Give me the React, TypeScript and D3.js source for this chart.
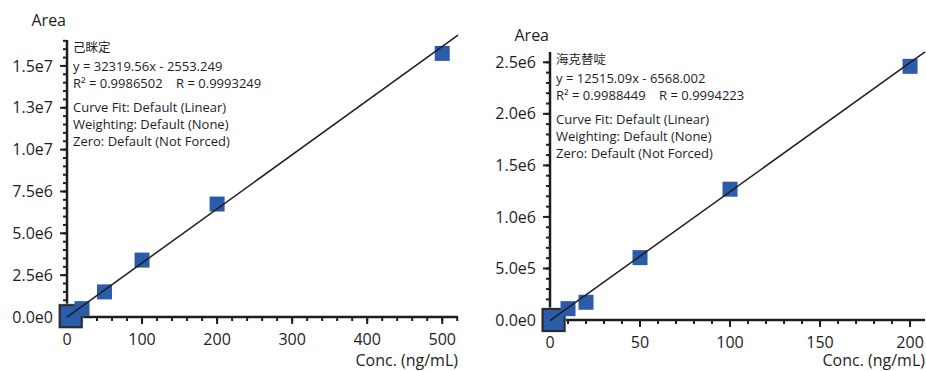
import React from "react";
import * as d3 from "d3";

// standards
const leftName = "己眯定";
const leftConc = [5, 20, 50, 100, 200, 500];
const leftArea = [0.05e6, 0.5e6, 1.5e6, 3.4e6, 6.75e6, 15.75e6];
const leftFit = { slope: 32319.56, intercept: -2553.249 };
const leftText = [
  "y = 32319.56x - 2553.249",
  "R² = 0.9986502    R = 0.9993249",
  "Curve Fit: Default (Linear)",
  "Weighting: Default (None)",
  "Zero: Default (Not Forced)",
];

const rightName = "海克替啶";
const rightConc = [2, 10, 20, 50, 100, 200];
const rightArea = [0, 0.11e6, 0.172e6, 0.605e6, 1.269e6, 2.461e6];
const rightFit = { slope: 12515.09, intercept: -6568.002 };
const rightText = [
  "y = 12515.09x - 6568.002",
  "R² = 0.9988449    R = 0.9994223",
  "Curve Fit: Default (Linear)",
  "Weighting: Default (None)",
  "Zero: Default (Not Forced)",
];

const font = '"Open Sans", "Noto Sans CJK SC", sans-serif';
const ink = "#1e1e1e";
const blue = "#2a5caa";

const fmt = (v: number) => v.toExponential(1).replace("+", "");

type PanelProps = {
  name: string;
  conc: number[];
  area: number[];
  fit: { slope: number; intercept: number };
  lines: string[];
  left: number;
  right: number;
  top: number;
  bottom: number;
  xMax: number;
  yMax: number;
  xStep: number;
  xMinor: number;
  yStep: number;
  yMinor: number;
  yMajorMax: number;
  areaY: number;
};

const Panel = (p: PanelProps) => {
  const x = d3.scaleLinear().domain([0, p.xMax]).range([p.left, p.right]);
  const y = d3.scaleLinear().domain([0, p.yMax]).range([p.bottom, p.top]);

  const xMajor = d3.range(0, p.xMax + 1e-9, p.xStep);
  const xMinor = d3.range(0, p.xMax + 1e-9, p.xMinor);
  const yMajor = d3.range(0, p.yMajorMax + 1, p.yStep);
  const yMinor = d3.range(0, p.yMax, p.yMinor);

  const fitLine = d3
    .line<number>()
    .x((d) => x(d))
    .y((d) => y(p.fit.slope * d + p.fit.intercept));

  const sz = 15;
  const big = 22;

  return (
    <g fontFamily={font} fill={ink}>
      <text x={p.left - 1} y={p.areaY} fontSize={16} textAnchor="end">
        Area
      </text>

      {yMinor.map((v) => (
        <line key={"ym" + v} x1={p.left - 4} x2={p.left} y1={y(v)} y2={y(v)} stroke={ink} strokeWidth={2} />
      ))}
      {yMajor.map((v) => (
        <g key={"yM" + v}>
          <line x1={p.left - 7} x2={p.left} y1={y(v)} y2={y(v)} stroke={ink} strokeWidth={2} />
          <text x={p.left - 14} y={y(v)} dy="0.35em" fontSize={16} textAnchor="end">
            {fmt(v)}
          </text>
        </g>
      ))}
      {xMinor.map((v) => (
        <line key={"xm" + v} x1={x(v)} x2={x(v)} y1={p.bottom} y2={p.bottom + 4} stroke={ink} strokeWidth={2} />
      ))}
      {xMajor.map((v) => (
        <g key={"xM" + v}>
          <line x1={x(v)} x2={x(v)} y1={p.bottom} y2={p.bottom + 7} stroke={ink} strokeWidth={2} />
          <text x={x(v)} y={p.bottom + 28} fontSize={16} textAnchor="middle">
            {v}
          </text>
        </g>
      ))}
      <line x1={p.left} x2={p.left} y1={p.top} y2={p.bottom + 1} stroke={ink} strokeWidth={2.5} />
      <line x1={p.left - 1} x2={p.right} y1={p.bottom} y2={p.bottom} stroke={ink} strokeWidth={2.5} />
      <text x={p.right} y={366} fontSize={16} textAnchor="end">
        Conc. (ng/mL)
      </text>

      <text x={p.left + 6} y={p.top + 12} fontSize={12.5}>
        {p.name}
      </text>
      {p.lines.map((t, i) => (
        <text
          key={t}
          x={p.left + 6}
          y={p.top + 30.5 + i * 17 + (i >= 2 ? 7.5 : 0)}
          fontSize={13}
          style={{ whiteSpace: "pre" }}
        >
          {t}
        </text>
      ))}

      {p.conc.map((c, i) =>
        i === 0 ? (
          <g key={c}>
            <rect x={x(c) - big / 2 - 1} y={y(p.area[i]) - big / 2 - 1} width={big + 2} height={big + 2} fill="none" stroke="#c8c8c8" strokeWidth={1} />
            <rect x={x(c) - big / 2} y={y(p.area[i]) - big / 2} width={big} height={big} fill={blue} stroke="#2b2b2b" strokeWidth={2} />
          </g>
        ) : (
          <rect key={c} x={x(c) - sz / 2} y={y(p.area[i]) - sz / 2} width={sz} height={sz} fill={blue} />
        )
      )}

      <path d={fitLine([0, p.xMax]) || ""} fill="none" stroke={ink} strokeWidth={1.5} />
    </g>
  );
};

export default function App() {
  return (
    <svg width={926} height={371} style={{ position: "absolute", left: 0, top: 0, background: "#fff" }}>
      <Panel
        name={leftName}
        conc={leftConc}
        area={leftArea}
        fit={leftFit}
        lines={leftText}
        left={67}
        right={458}
        top={40}
        bottom={317}
        xMax={521}
        yMax={16.55e6}
        xStep={100}
        xMinor={20}
        yStep={2.5e6}
        yMinor={5e5}
        yMajorMax={1.5e7}
        areaY={26}
      />
      <Panel
        name={rightName}
        conc={rightConc}
        area={rightArea}
        fit={rightFit}
        lines={rightText}
        left={550}
        right={925}
        top={52}
        bottom={320}
        xMax={208.3}
        yMax={2.6e6}
        xStep={50}
        xMinor={10}
        yStep={5e5}
        yMinor={1e5}
        yMajorMax={2.5e6}
        areaY={41}
      />
    </svg>
  );
}
